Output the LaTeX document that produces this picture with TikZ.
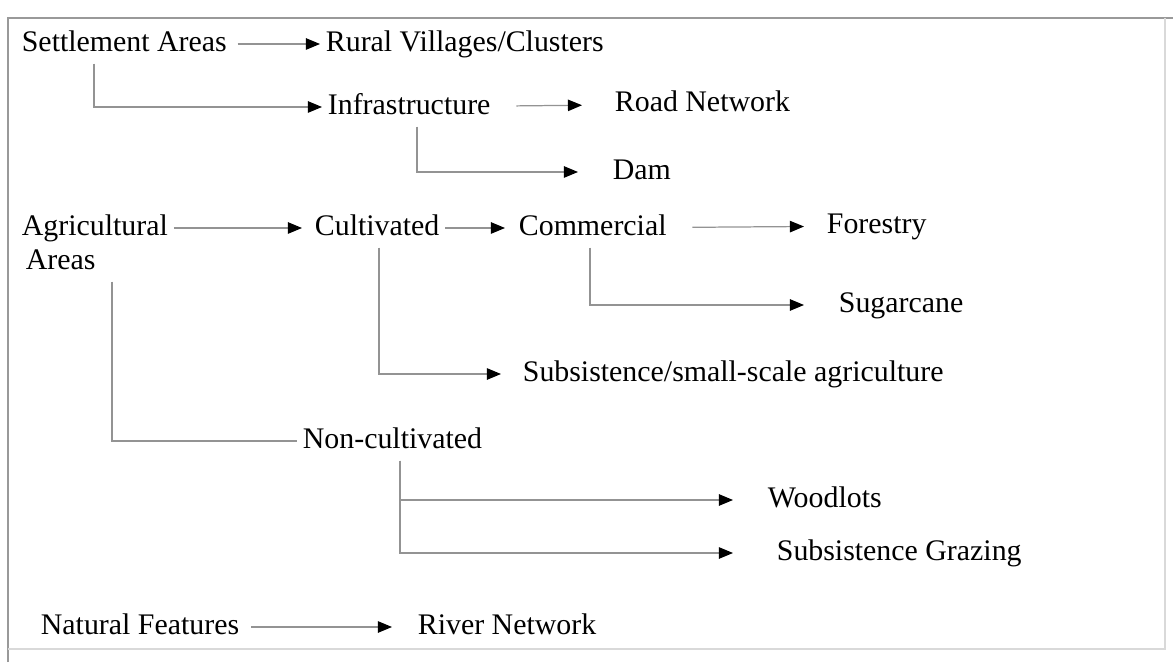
\documentclass[tikz,border=0pt]{standalone}
\usepackage{fontspec}
\setmainfont{Liberation Serif}
\usetikzlibrary{arrows.meta}

\begin{document}
\begin{tikzpicture}
  [line width=0.7pt,every node/.style={inner sep=3pt,anchor=west,text height=12pt,text depth=3.5pt,
     font=\fontsize{17}{20}\selectfont},
   arr/.style={gray!85,-{Triangle[black,length=8pt,width=6.5pt]}},
   link/.style={gray!85}]
  \useasboundingbox (0,0) rectangle (23.46,13.24);
  \draw [gray!80] (0.16,0) -- (0.16,12.88) -- (23.46,12.88);
  \draw [gray!30] (0.16,0.26) -- (23.3,0.26) -- (23.3,12.88);

  \node (settle) at (0.32,12.36) {Settlement Areas};
  \node (rural) at (6.40,12.36) {Rural Villages/Clusters};
  \node (infra) at (6.44,11.10) {Infrastructure};
  \node (road) at (12.18,11.16) {Road Network};
  \node (dam) at (12.14,9.80) {Dam};
  \node (agri) at (0.32,8.68) {Agricultural};
  \node (areas) at (0.40,8.00) {Areas};
  \node (cult) at (6.18,8.68) {Cultivated};
  \node (comm) at (10.26,8.68) {Commercial};
  \node (forest) at (16.42,8.72) {Forestry};
  \node (sugar) at (16.66,7.14) {Sugarcane};
  \node (subs) at (10.34,5.76) {Subsistence/small-scale agriculture};
  \node (noncult) at (5.94,4.42) {Non-cultivated};
  \node (wood) at (15.24,3.24) {Woodlots};
  \node (graze) at (15.42,2.18) {Subsistence Grazing};
  \node (natural) at (0.70,0.70) {Natural Features};
  \node (river) at (8.24,0.70) {River Network};

  \foreach \from/\to/\pre/\post in {settle/rural/0.1/0,infra/road/0.4/0.54,agri/cult/0/0.14,
      cult/comm/0/0.16,comm/forest/0.4/0.34,natural/river/0.12/0.4}
    \draw[arr,shorten <=\pre cm,shorten >=\post cm] (\from) -- (\to);

  \draw [arr] (settle.south -| 1.88,0) |- (infra.west);
  \draw [arr,shorten >=0.58cm] (infra.south -| 8.34,0) |- (dam.west);
  \draw [arr,shorten >=0.58cm] (comm.south -| 11.80,0) |- (sugar.west);
  \draw [arr,shorten >=0.32cm] (cult.south -| 7.58,0) |- (subs.west);
  \draw [link] (areas.south -| 2.24,0) |- (noncult.west);
  \draw [arr,shorten >=0.58cm] (noncult.south -| 8.0,0) |- (wood.west);
  \draw [arr,shorten >=0.76cm] (noncult.south -| 8.0,0) |- (graze.west);
\end{tikzpicture}
\end{document}
